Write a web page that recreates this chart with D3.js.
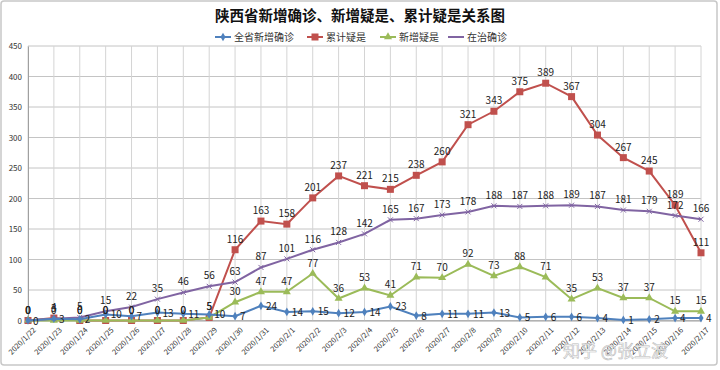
<!DOCTYPE html>
<html>
<head>
<meta charset="utf-8">
<script src="https://cdn.jsdelivr.net/npm/d3@7"></script>
<style>
body { margin: 0; background: #fff; }
text { font-family: "Noto Sans CJK SC", "DejaVu Sans", sans-serif; }
</style>
</head>
<body>
<div id="chart"></div>
<script>
var dates = ["2020/1/22","2020/1/23","2020/1/24","2020/1/25","2020/1/26","2020/1/27","2020/1/28","2020/1/29","2020/1/30","2020/1/31",
  "2020/2/1","2020/2/2","2020/2/3","2020/2/4","2020/2/5","2020/2/6","2020/2/7","2020/2/8","2020/2/9","2020/2/10",
  "2020/2/11","2020/2/12","2020/2/13","2020/2/14","2020/2/15","2020/2/16","2020/2/17"];
var newConfirmed = [0,3,2,10,7,13,11,10,7,24,14,15,12,14,23,8,11,11,13,5,6,6,4,1,2,4,4];
var totalSuspect = [0,4,0,0,0,0,0,5,116,163,158,201,237,221,215,238,260,321,343,375,389,367,304,267,245,189,111];
var newSuspect = [0,0,0,0,0,0,0,5,30,47,47,77,36,53,41,71,70,92,73,88,71,35,53,37,37,15,15];
var inTreatment = [0,3,5,15,22,35,46,56,63,87,101,116,128,142,165,167,173,178,188,187,188,189,187,181,179,172,166];
var yTicks = [0,50,100,150,200,250,300,350,400,450];

function draw() {
  var width = 720, height = 370;
  var plotLeft = 28, plotRight = 701, plotTop = 46, plotBottom = 320.5;

  var svg = d3.select("#chart").append("svg")
    .attr("width", width)
    .attr("height", height);

  // outer frame
  svg.append("rect").attr("x", 1).attr("y", 1).attr("width", 716).attr("height", 364)
    .attr("fill", "#fff").attr("stroke", "#c8c8c8").attr("stroke-width", 1.5).attr("rx", 3);

  var x = d3.scalePoint().domain(dates).range([plotLeft, plotRight]).padding(0);
  var y = d3.scaleLinear().domain([0, 450]).range([plotBottom, plotTop]);

  // grid
  svg.append("g").selectAll("line").data(yTicks).enter().append("line")
    .attr("x1", plotLeft).attr("x2", plotRight)
    .attr("y1", function(d) { return y(d); }).attr("y2", function(d) { return y(d); })
    .attr("stroke", "#c4c4c4").attr("stroke-width", 1);
  svg.append("g").selectAll("line").data(dates).enter().append("line")
    .attr("x1", function(d) { return x(d); }).attr("x2", function(d) { return x(d); })
    .attr("y1", plotTop).attr("y2", plotBottom)
    .attr("stroke", "#d4d4d4").attr("stroke-width", 1);

  // y axis
  var yAxis = svg.append("g").attr("transform", "translate(" + plotLeft + ",0)")
    .call(d3.axisLeft(y).tickValues(yTicks).tickSize(0).tickPadding(6));
  yAxis.select(".domain").attr("stroke", "#a0a0a0");
  yAxis.selectAll("text").attr("font-size", 8).attr("fill", "#333");

  // x axis
  var xAxis = svg.append("g").attr("transform", "translate(0," + plotBottom + ")")
    .call(d3.axisBottom(x).tickSize(0));
  xAxis.select(".domain").attr("stroke", "#a0a0a0");
  xAxis.selectAll("text")
    .attr("font-size", 7.5).attr("fill", "#333")
    .attr("text-anchor", "end")
    .attr("transform", "translate(4,6) rotate(-45)")
    .attr("dy", "0.35em");

  var series = [
    { name: "全省新增确诊", values: newConfirmed, color: "#4f81bd", marker: "diamond", label: "right" },
    { name: "累计疑是", values: totalSuspect, color: "#c0504d", marker: "square", label: "top" },
    { name: "新增疑是", values: newSuspect, color: "#9bbb59", marker: "triangle", label: "top" },
    { name: "在治确诊", values: inTreatment, color: "#8064a2", marker: "x", label: "top" }
  ];

  var line = d3.line()
    .x(function(d, i) { return x(dates[i]); })
    .y(function(d) { return y(d); });

  function drawMarker(g, type, color, px, py) {
    if (type === "diamond") {
      g.append("path").attr("d", d3.symbol(d3.symbolDiamond, 22)())
        .attr("transform", "translate(" + px + "," + py + ")").attr("fill", color);
    } else if (type === "square") {
      g.append("rect").attr("x", px - 3.5).attr("y", py - 3.5).attr("width", 7).attr("height", 7)
        .attr("fill", color);
    } else if (type === "triangle") {
      g.append("path").attr("d", d3.symbol(d3.symbolTriangle, 28)())
        .attr("transform", "translate(" + px + "," + py + ")").attr("fill", color);
    } else {
      g.append("path").attr("d", "M-2.5,-2.5L2.5,2.5M-2.5,2.5L2.5,-2.5")
        .attr("transform", "translate(" + px + "," + py + ")")
        .attr("stroke", color).attr("stroke-width", 1);
    }
  }

  // draw order: red, green, purple, blue (blue on top)
  [1, 2, 3, 0].forEach(function(k) {
    var s = series[k];
    var g = svg.append("g");
    g.append("path").datum(s.values).attr("d", line)
      .attr("fill", "none").attr("stroke", s.color).attr("stroke-width", 2);
    s.values.forEach(function(v, i) {
      drawMarker(g, s.marker, s.color, x(dates[i]), y(v));
    });
  });

  // data labels
  series.forEach(function(s) {
    svg.append("g").selectAll("text").data(s.values).enter().append("text")
      .attr("x", function(d, i) { return s.label === "right" ? x(dates[i]) + 5 : x(dates[i]); })
      .attr("y", function(d) { return s.label === "right" ? y(d) + 4 : y(d) - 7; })
      .attr("text-anchor", s.label === "right" ? "start" : "middle")
      .attr("font-size", 10).attr("fill", "#222")
      .text(function(d) { return d; });
  });

  // title
  svg.append("text").attr("x", 360).attr("y", 21).attr("text-anchor", "middle")
    .attr("font-size", 14.5).attr("font-weight", "bold").attr("fill", "#111")
    .text("陕西省新增确诊、新增疑是、累计疑是关系图");

  // legend
  var legendX = [215, 307, 380, 448];
  series.forEach(function(s, i) {
    var g = svg.append("g").attr("transform", "translate(" + legendX[i] + ",37)");
    g.append("line").attr("x1", 0).attr("x2", 16).attr("y1", 0).attr("y2", 0)
      .attr("stroke", s.color).attr("stroke-width", 2);
    if (s.marker !== "x") drawMarker(g, s.marker, s.color, 8, 0);
    g.append("text").attr("x", 19).attr("y", 4).attr("font-size", 10).attr("fill", "#333").text(s.name);
  });

  // watermark
  svg.append("text").attr("x", 563).attr("y", 357).attr("font-size", 17)
    .attr("fill", "#ffffff").attr("fill-opacity", 0.85)
    .attr("stroke", "#bbb").attr("stroke-width", 0.6)
    .text("知乎 @张立波");
}
draw();
</script>
</body>
</html>
